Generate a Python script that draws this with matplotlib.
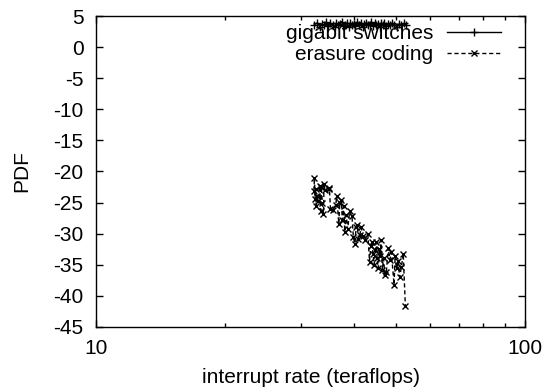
import matplotlib
matplotlib.use("Agg")
import matplotlib.pyplot as plt
from matplotlib.ticker import LogLocator, FixedLocator, NullFormatter

plt.rcParams["font.family"] = ["Liberation Sans", "DejaVu Sans"]
plt.rcParams["font.size"] = 15

# -------------------------
# Data
# -------------------------

gig_x = [32.3, 32.8, 33.2, 33.6, 34.0, 34.3, 34.8, 35.2, 35.6, 36.0,
         36.3, 36.6, 37.0, 37.4, 37.7, 38.0, 38.4, 38.8, 39.1, 39.5,
         39.9, 40.2, 40.6, 41.0, 41.4, 41.8, 42.1, 42.5, 43.0, 43.4,
         43.8, 44.2, 44.6, 45.0, 45.4, 45.8, 46.2, 46.6, 47.0, 47.5,
         48.0, 48.5, 49.0, 49.6, 50.2, 50.8, 51.5, 52.2, 52.9]
gig_y = [3.6, 3.9, 3.3, 3.7, 3.5, 4.0, 3.4, 3.8, 3.6, 3.3,
         3.9, 3.5, 3.7, 4.1, 3.4, 3.6, 3.8, 3.3, 3.9, 3.5,
         3.7, 3.4, 4.0, 3.6, 3.8, 3.3, 3.7, 3.9, 3.5, 3.6,
         4.0, 3.4, 3.8, 3.5, 3.7, 3.3, 3.9, 3.6, 3.8, 3.4,
         3.7, 3.5, 3.9, 3.6, 3.3, 3.7, 3.5, 3.8, 3.6]

ec_x = [32.2, 32.3, 32.4, 32.5, 32.6, 32.7, 33.0, 33.2, 33.4, 33.5,
        33.7, 33.9, 34.0, 34.2, 34.9, 35.0, 35.2, 35.6, 36.2, 36.4,
        36.8, 37.0, 37.3, 37.5, 37.8, 38.0, 38.3, 38.6, 39.0, 39.5,
        39.8, 40.1, 40.4, 40.6, 40.9, 41.2, 41.5, 41.8, 42.3, 43.0,
        43.4, 43.7, 44.0, 44.2, 44.5, 44.8, 45.0, 45.2, 45.5, 45.7,
        46.0, 46.2, 46.5, 46.8, 47.1, 47.5, 48.0, 48.4, 48.8, 49.5,
        49.8, 50.2, 50.6, 51.0, 51.5, 52.0, 52.6]
ec_y = [-23.2, -21.0, -24.5, -22.8, -25.6, -23.9, -24.8, -22.3, -26.3, -22.5,
        -25.1, -26.8, -22.0, -23.0, -22.6, -22.9, -26.0, -26.2, -25.4, -24.0,
        -28.4, -25.0, -24.6, -27.8, -25.6, -29.7, -27.0, -29.3, -26.4, -27.2,
        -30.6, -31.6, -29.0, -28.6, -30.8, -30.2, -29.0, -30.4, -31.0, -30.0,
        -34.5, -32.0, -31.4, -33.2, -35.0, -32.6, -31.4, -34.0, -35.6, -32.5,
        -33.6, -31.0, -35.8, -34.0, -36.6, -36.2, -32.3, -34.2, -33.0, -38.2,
        -33.6, -35.6, -34.4, -37.0, -35.4, -33.2, -41.6]

y_ticks = [5, 0, -5, -10, -15, -20, -25, -30, -35, -40, -45]

# -------------------------
# Plot
# -------------------------

fig = plt.figure(figsize=(5.58, 3.91), dpi=100)
ax = fig.add_axes([0.172, 0.164, 0.769, 0.795])

ax.plot(gig_x, gig_y, color="black", linewidth=1.0, marker="+",
        markersize=6, markeredgewidth=1.0, label="gigabit switches")
ax.plot(ec_x, ec_y, color="black", linewidth=1.0, linestyle=(0, (3, 2)),
        marker="x", markersize=5, markeredgewidth=1.0, label="erasure coding")

ax.set_xscale("log")
ax.set_xlim(10, 100)
ax.set_ylim(-45, 5)
ax.xaxis.set_major_locator(FixedLocator([10, 100]))
ax.set_xticklabels(["10", "100"])
ax.xaxis.set_minor_locator(LogLocator(base=10, subs=range(2, 10)))
ax.xaxis.set_minor_formatter(NullFormatter())
ax.set_yticks(y_ticks)
ax.set_yticklabels([str(v) for v in y_ticks])

ax.tick_params(which="both", direction="in", top=True, right=True, width=1)
ax.tick_params(which="major", length=5, pad=9)
ax.tick_params(which="minor", length=3)
for s in ax.spines.values():
    s.set_linewidth(1)

ax.set_xlabel("interrupt rate (teraflops)", labelpad=7)
ax.set_ylabel("PDF", labelpad=16)

ax.legend(loc="upper right", bbox_to_anchor=(0.944, 0.975), frameon=False,
          markerfirst=False, handlelength=2.6, handletextpad=0.65,
          labelspacing=0.1, borderaxespad=0.0, borderpad=0.0, fontsize=15)

fig.savefig("out.png", dpi=100)
